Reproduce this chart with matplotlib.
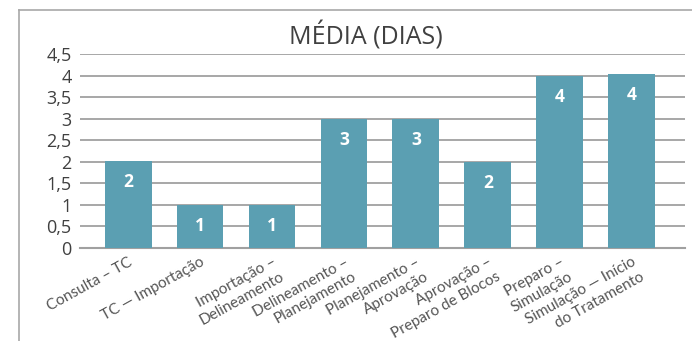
import matplotlib.pyplot as plt
from matplotlib.lines import Line2D

# Valeurs
etapes = ['Consulta – TC', 'TC — Importação', 'Importação –\nDelineamento',
          'Delineamento –\nPlanejamento', 'Planejamento –\nAprovação',
          'Aprovação –\nPreparo de Blocos', 'Preparo –\nSimulação',
          'Simulação — Início\ndo Tratamento']
media_dias = [2.02, 1.0, 1.0, 3.0, 3.0, 2.0, 3.98, 4.03]
yticks = [0, 0.5, 1, 1.5, 2, 2.5, 3, 3.5, 4, 4.5]
ytick_labels = ['0', '0,5', '1', '1,5', '2', '2,5', '3', '3,5', '4', '4,5']

plt.rcParams['font.family'] = ['Open Sans', 'DejaVu Sans']

cor_barra = '#5B9FB2'
cor_texto = '#404040'

fig = plt.figure(figsize=(6.92, 3.41), dpi=100)
ax = fig.add_axes([0.1156, 0.2727, 0.874, 0.5689])

x = range(len(etapes))
barras = ax.bar(x, media_dias, width=0.65, color=cor_barra, zorder=3)

for b, v in zip(barras, media_dias):
    ax.annotate(f'{round(v):d}', (b.get_x() + b.get_width() / 2, v),
                xytext=(0, -15), textcoords='offset points',
                ha='center', va='center', color='white',
                fontsize=12.5, fontweight='bold', zorder=4)

ax.set_ylim(0, 4.5)
ax.set_xlim(-0.67, 7.74)
ax.set_yticks(yticks)
ax.set_yticklabels(ytick_labels, fontsize=13, color=cor_texto)
ax.set_xticks(list(x))
ax.set_xticklabels(etapes, rotation=29, ha='right', va='top',
                   rotation_mode='anchor', multialignment='right',
                   fontsize=11, color='#555555', linespacing=1.25,
                   family=['Lato', 'DejaVu Sans'])
ax.tick_params(axis='both', length=0)
ax.tick_params(axis='y', pad=6)
ax.tick_params(axis='x', pad=5)

ax.grid(axis='y', color='#A0A0A0', linewidth=1.3, zorder=0)
for s in ['top', 'right', 'left']:
    ax.spines[s].set_visible(False)
ax.spines['bottom'].set_color('#A0A0A0')
ax.spines['bottom'].set_linewidth(1.5)

fig.text(0.528, 0.893, 'MÉDIA (DIAS)', ha='center', va='center',
         fontsize=18, color=cor_texto)

# cadre autour du graphique
fig.add_artist(Line2D([0.0275, 0.0275], [0.0, 0.971], color='#A8A8A8', linewidth=1.2))
fig.add_artist(Line2D([0.0275, 1.0], [0.971, 0.971], color='#A8A8A8', linewidth=1.2))

fig.savefig('out.png', dpi=100)
